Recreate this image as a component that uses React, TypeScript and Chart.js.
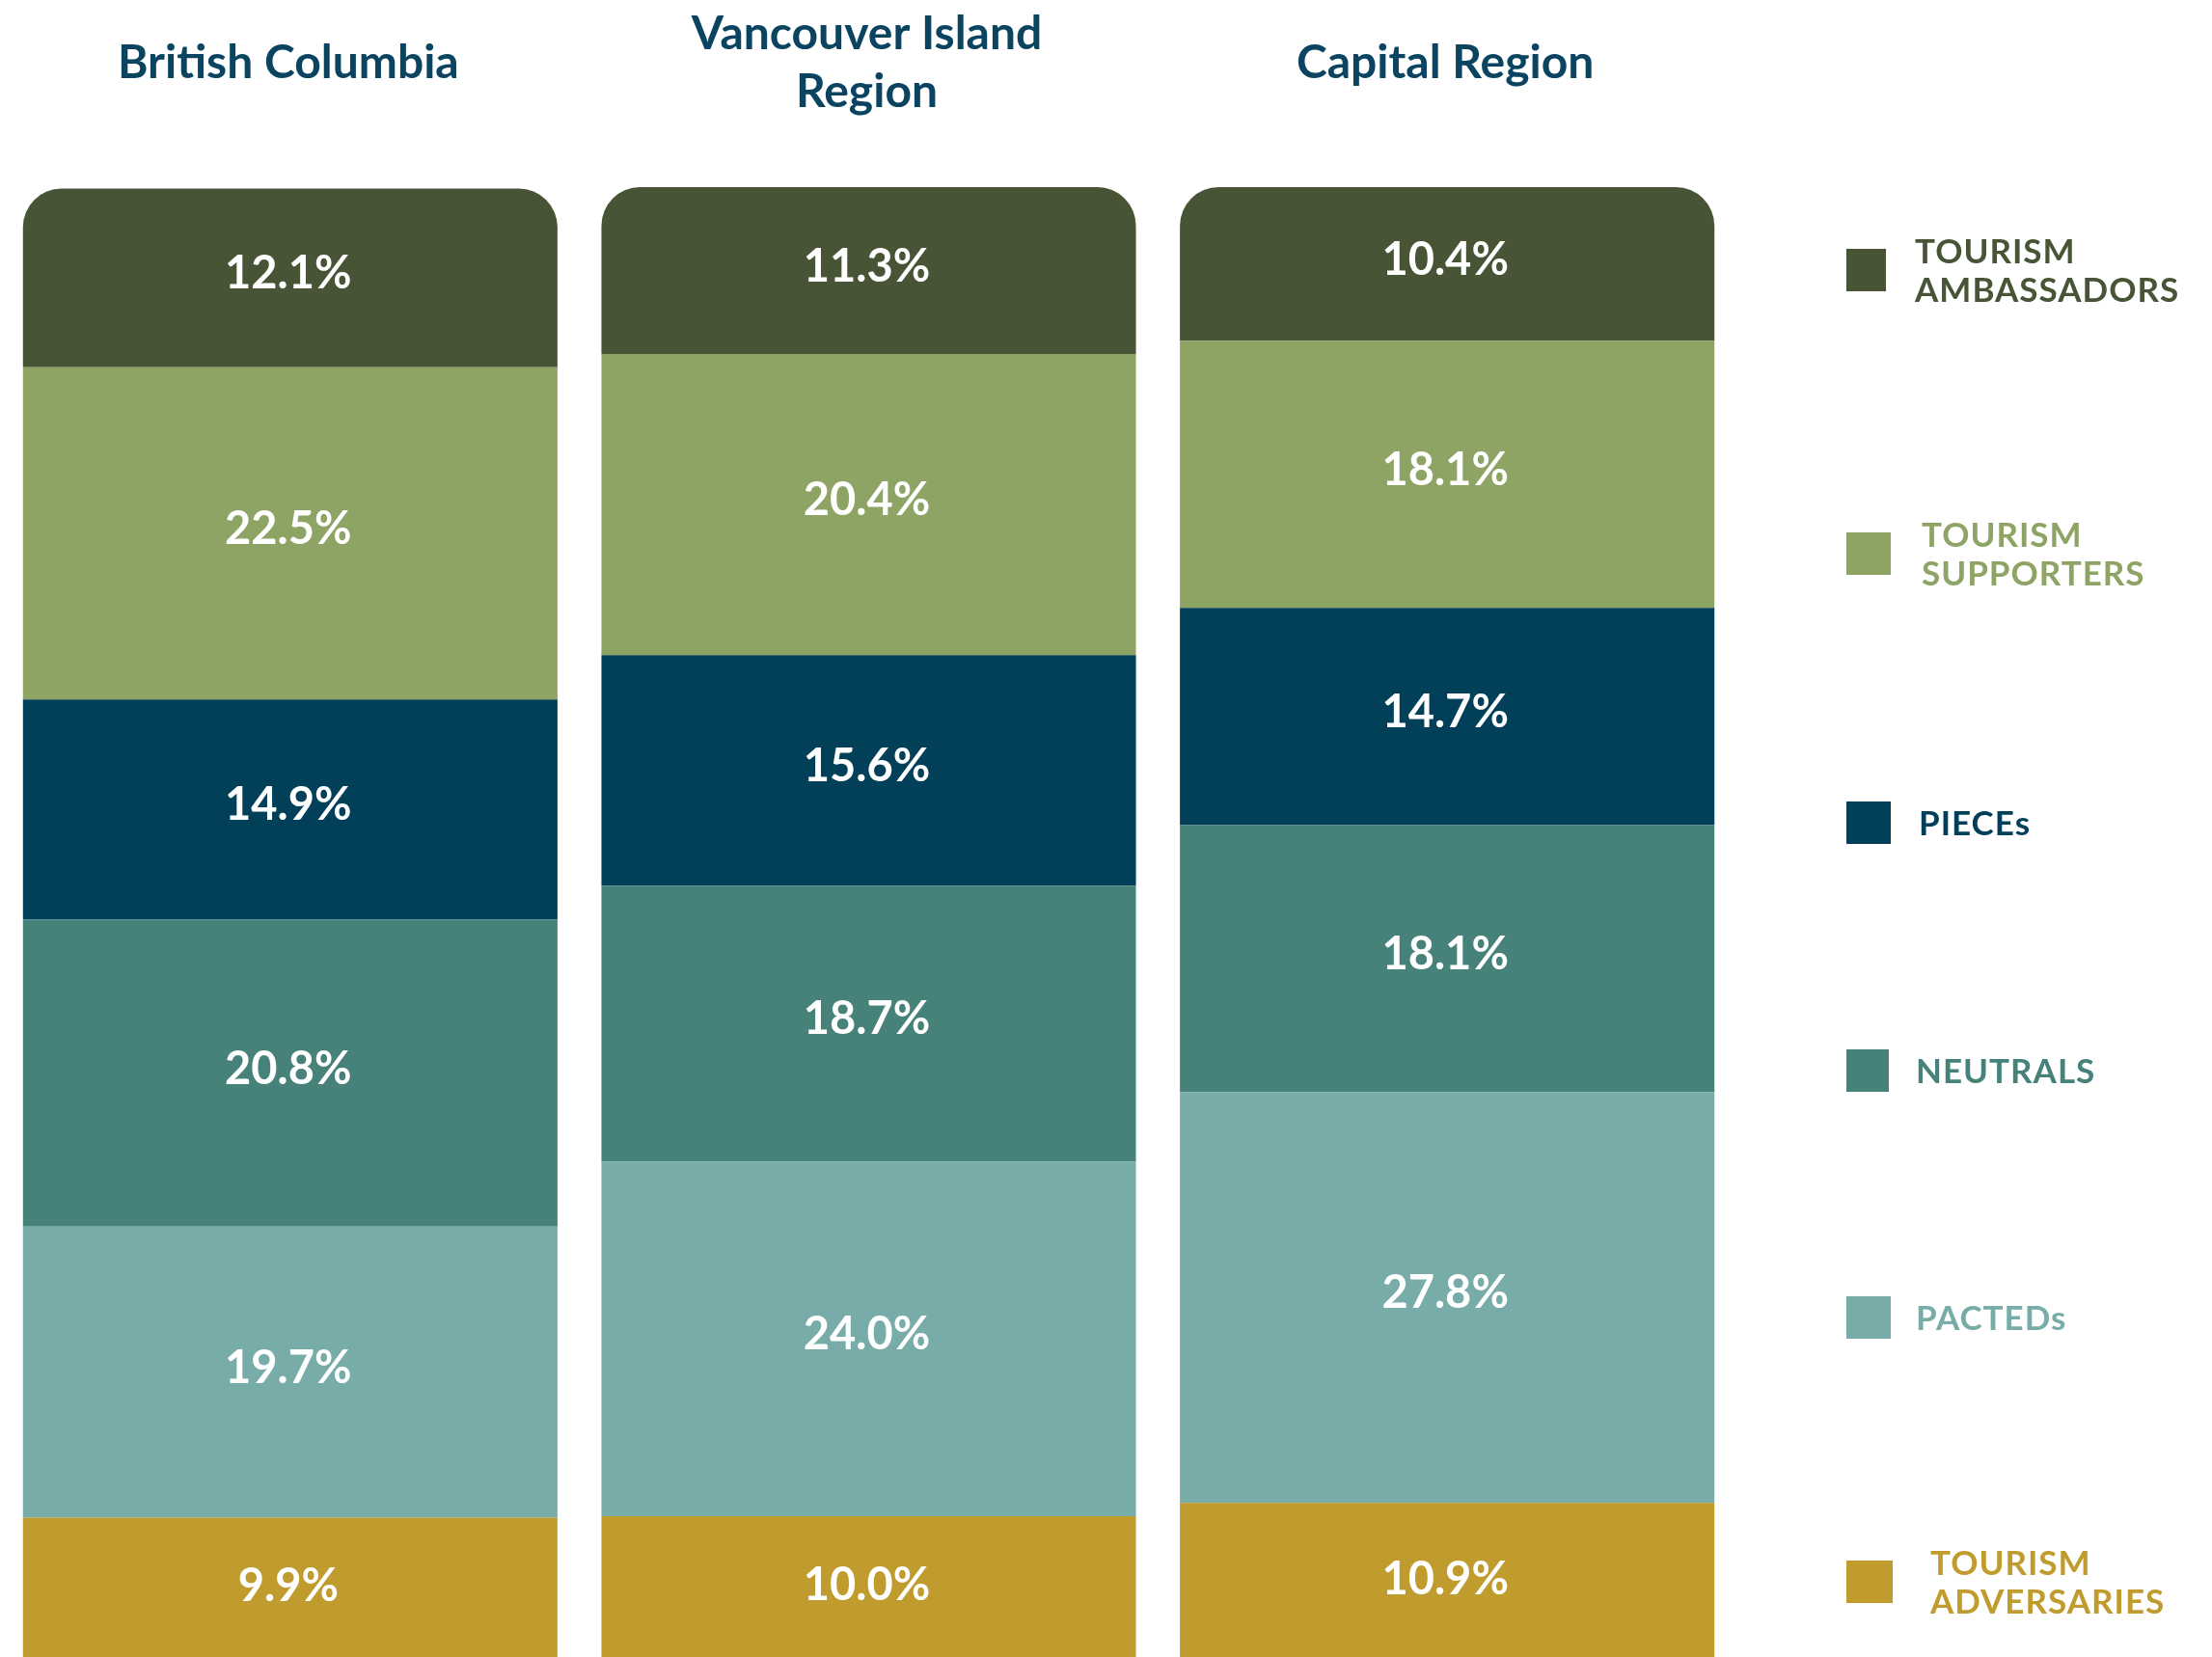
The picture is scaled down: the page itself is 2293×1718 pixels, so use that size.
import React, { useEffect, useRef } from "react";
import { Chart, registerables } from "chart.js";

Chart.register(...registerables);

// ---- data ----
const categories: string[][] = [["British Columbia"], ["Vancouver Island", "Region"], ["Capital Region"]];

const seriesNames: string[][] = [
  ["TOURISM", "ADVERSARIES"],
  ["PACTEDs"],
  ["NEUTRALS"],
  ["PIECEs"],
  ["TOURISM", "SUPPORTERS"],
  ["TOURISM", "AMBASSADORS"],
];

const adversaries = [9.9, 10.0, 10.9];
const pacteds = [19.7, 24.0, 27.8];
const neutrals = [20.8, 18.7, 18.1];
const pieces = [14.9, 15.6, 14.7];
const supporters = [22.5, 20.4, 18.1];
const ambassadors = [12.1, 11.3, 10.4];

const seriesValues = [adversaries, pacteds, neutrals, pieces, supporters, ambassadors];

// ---- styles ----
const seriesColors = ["#c09b2d", "#77aca9", "#46827a", "#02405a", "#8ea465", "#485436"];
const titleColor = "#0b4460";
const FONT = "Lato, 'Open Sans', sans-serif";

// legend layout (square centre y, text x) ordered as seriesNames
const legendLayout = [
  { cy: 1640, tx: 2001, w: 48 },
  { cy: 1366, tx: 1986, w: 46 },
  { cy: 1110, tx: 1986, w: 44 },
  { cy: 853, tx: 1989, w: 46 },
  { cy: 574, tx: 1992, w: 46 },
  { cy: 280, tx: 1985, w: 41 },
];

const labelsPlugin = {
  id: "segLabels",
  afterDatasetsDraw(chart: any) {
    const ctx = chart.ctx;
    ctx.save();
    ctx.fillStyle = "#ffffff";
    ctx.font = `700 47px ${FONT}`;
    ctx.textAlign = "center";
    ctx.textBaseline = "alphabetic";
    chart.data.datasets.forEach((ds: any, di: number) => {
      const meta = chart.getDatasetMeta(di);
      meta.data.forEach((el: any, i: number) => {
        const v = ds.data[i];
        const cy = (el.y + el.base) / 2;
        ctx.fillText(v.toFixed(1) + "%", el.x - 2, cy + 11);
      });
    });
    ctx.restore();
  },
};

const decorPlugin = {
  id: "decor",
  afterDraw(chart: any) {
    const ctx = chart.ctx;
    const xs = chart.scales.x;
    ctx.save();
    // titles
    ctx.fillStyle = titleColor;
    ctx.font = `700 48px ${FONT}`;
    ctx.textAlign = "center";
    ctx.textBaseline = "alphabetic";
    categories.forEach((lines, i) => {
      const x = xs.getPixelForValue(i);
      const centre = 64;
      const lh = 60;
      lines.forEach((t, li) => {
        const cy = centre + (li - (lines.length - 1) / 2) * lh;
        ctx.fillText(t, x - 2, cy + 17);
      });
    });
    // legend
    ctx.textAlign = "left";
    ctx.font = `700 35px ${FONT}`;
    try {
      (ctx as any).letterSpacing = "1px";
    } catch (e) {}
    seriesNames.forEach((lines, i) => {
      const L = legendLayout[i];
      ctx.fillStyle = seriesColors[i];
      ctx.fillRect(1914, L.cy - 22, L.w, 44);
      const lh = 40;
      lines.forEach((t, li) => {
        const cy = L.cy + (li - (lines.length - 1) / 2) * lh;
        ctx.fillText(t, L.tx, cy + 12.5);
      });
    });
    ctx.restore();
  },
};

export default function App() {
  const ref = useRef<HTMLCanvasElement | null>(null);
  useEffect(() => {
    if (!ref.current) return;
    const top = seriesValues.length - 1;
    const chart = new Chart(ref.current, {
      type: "bar",
      data: {
        labels: categories.map((c) => c.join(" ")),
        datasets: seriesValues.map((vals, i) => ({
          label: seriesNames[i].join(" "),
          data: vals,
          backgroundColor: seriesColors[i],
          borderWidth: 0,
          borderSkipped: i === top ? "bottom" : false,
          borderRadius: i === top ? { topLeft: 40, topRight: 40, bottomLeft: 0, bottomRight: 0 } : 0,
          barPercentage: 1,
          categoryPercentage: 0.924,
        })),
      },
      options: {
        animation: false,
        responsive: false,
        devicePixelRatio: 1,
        layout: { padding: { top: 194, left: 1, right: 493, bottom: 0 } },
        plugins: { legend: { display: false }, tooltip: { enabled: false }, title: { display: false } },
        scales: {
          x: { stacked: true, display: false, grid: { display: false } },
          y: { stacked: true, display: false, min: 0.46, max: 100, grid: { display: false } },
        },
      },
      plugins: [labelsPlugin, decorPlugin],
    } as any);
    return () => chart.destroy();
  }, []);
  return (
    <div style={{ position: "absolute", left: 0, top: 0, width: 2293, height: 1718, background: "#ffffff" }}>
      <canvas ref={ref} width={2293} height={1718} style={{ display: "block" }} />
    </div>
  );
}
